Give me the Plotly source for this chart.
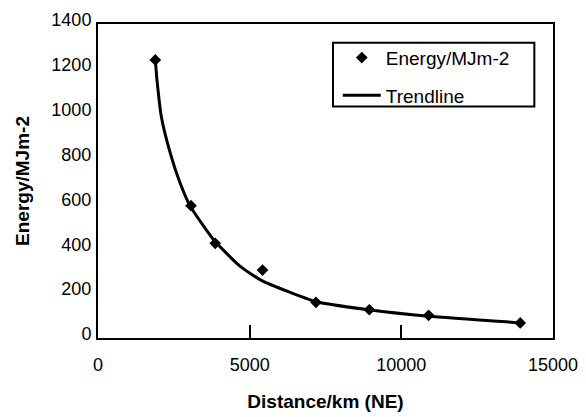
import plotly.graph_objects as go

# Measured data points (Distance/km, Energy/MJm-2)
distance = [1890, 3065, 3865, 5425, 7185, 8945, 10900, 13920]
energy = [1240, 590, 422, 303, 159, 126, 101, 67]

# Trendline
trend_x = [1890, 1945, 2090, 2350, 2710, 3040, 3810, 4690, 5400, 7160, 8920, 10900, 13920]
trend_y = [1240, 1150, 985, 840, 690, 588, 438, 319, 256, 163, 126, 97, 68]

x_ticks = [0, 5000, 10000, 15000]
y_ticks = [0, 200, 400, 600, 800, 1000, 1200, 1400]

FONT = "Liberation Sans, Arial, sans-serif"

fig = go.Figure()
fig.add_trace(go.Scatter(
    x=distance, y=energy, mode="markers", name="Energy/MJm-2",
    marker=dict(symbol="diamond", size=9, color="black"),
    legendgroup="a",
))
fig.add_trace(go.Scatter(
    x=trend_x, y=trend_y, mode="lines", name="Trendline",
    line=dict(color="black", width=3, shape="spline", smoothing=0.5),
    legendgroup="b",
))

# legend frame
fig.add_shape(type="rect", xref="paper", yref="paper",
              x0=0.5165, x1=0.959, y0=0.737, y1=0.9405,
              line=dict(color="black", width=2), fillcolor="rgba(0,0,0,0)",
              layer="above")

# The page adds an 8px body margin, so the figure is 8px smaller and top/left margins shifted.
fig.update_layout(
    width=578, height=409,
    margin=dict(l=90, r=33, t=16, b=79, autoexpand=False),
    paper_bgcolor="white", plot_bgcolor="white",
    font=dict(family=FONT, size=18, color="black"),
    showlegend=True,
    legend=dict(
        x=0.527, y=0.953, xanchor="left", yanchor="top",
        bgcolor="rgba(0,0,0,0)", borderwidth=0,
        font=dict(family=FONT, size=19, color="black"),
        tracegroupgap=10, itemwidth=38,
    ),
    xaxis=dict(
        range=[0, 15000], tickvals=x_ticks, ticktext=[str(v) for v in x_ticks],
        ticks="inside", ticklen=13, tickwidth=2, tickcolor="black",
        showline=True, linewidth=2, linecolor="black", mirror=True,
        showgrid=False, zeroline=False,
        tickfont=dict(family=FONT, size=18, color="black"),
        ticklabelstandoff=9,
        title=dict(text="Distance/km (NE)", standoff=21,
                   font=dict(family=FONT, size=19, color="black", weight="bold")),
    ),
    yaxis=dict(
        range=[0, 1400], tickvals=y_ticks, ticktext=[str(v) for v in y_ticks],
        ticks="", showline=True, linewidth=2, linecolor="black", mirror=True,
        showgrid=False, zeroline=False,
        tickfont=dict(family=FONT, size=18, color="black"),
        ticklabelstandoff=1, ticklabelshift=-4,
        title=dict(text="Energy/MJm-2", standoff=17,
                   font=dict(family=FONT, size=19, color="black", weight="bold")),
    ),
)

fig.write_html("out.html")
